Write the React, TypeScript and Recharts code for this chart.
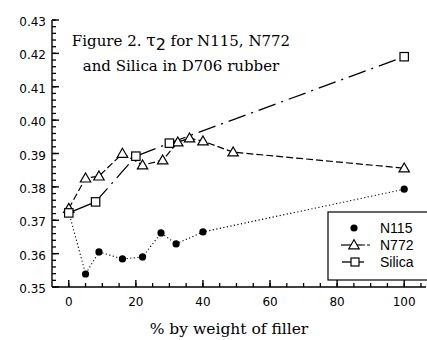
import React from 'react';
import { ComposedChart, Line, XAxis, YAxis } from 'recharts';

// ---- data ----
const n115X = [0, 5, 9, 16, 22, 27.5, 32, 40, 100];
const n115Y = [0.3725, 0.3539, 0.3605, 0.3584, 0.359, 0.3662, 0.3629, 0.3665, 0.3793];

const n772X = [0, 5, 9, 16, 22, 28, 32.5, 36, 40, 49, 100];
const n772Y = [0.3735, 0.3826, 0.3832, 0.390, 0.3865, 0.388, 0.3934, 0.3946, 0.3937, 0.3904, 0.3856];

const silicaX = [0, 8, 20, 30, 100];
const silicaY = [0.3722, 0.3755, 0.3892, 0.3931, 0.419];

const xMajorTicks = [0, 20, 40, 60, 80, 100];
const xMinorTicks = [5, 10, 15, 25, 30, 35, 45, 50, 55, 65, 70, 75, 85, 90, 95, 105];
const yMajorTicks = [0.35, 0.36, 0.37, 0.38, 0.39, 0.40, 0.41, 0.42, 0.43];

const seriesNames = ['N115', 'N772', 'Silica'];
const titleLine1 = ['Figure 2. ', 'τ', '2', ' for N115, N772'];
const titleLine2 = 'and Silica in D706 rubber';
const xAxisTitle = '% by weight of filler';

// ---- derived tables ----
const toRows = (xs: number[], ys: number[]) => xs.map((x, i) => ({ x, y: ys[i] }));
const n115Data = toRows(n115X, n115Y);
const n772Data = toRows(n772X, n772Y);
const silicaData = toRows(silicaX, silicaY);
const silicaSolid = silicaData.slice(0, 2);
const silicaDash = silicaData.slice(1);

const yMinorTicks: number[] = [];
yMajorTicks.slice(0, -1).forEach((v) => {
  [1, 2, 3, 4].forEach((k) => yMinorTicks.push(Number((v + k * 0.002).toFixed(3))));
});
const yAllTicks = [...yMajorTicks, ...yMinorTicks].sort((a, b) => a - b);
const xAllTicks = [...xMajorTicks, ...xMinorTicks].sort((a, b) => a - b);

const isMajor = (list: number[], v: number) => list.some((m) => Math.abs(m - v) < 1e-6);

const TICK_FONT = 'DejaVu Sans';
const SERIF = 'DejaVu Serif';

// native tick lines (tickSize -4, inward); tickMargin 10 puts label anchor 6px left of the axis
const YTick = (props: any) => {
  const { x, y, payload } = props;
  const major = isMajor(yMajorTicks, payload.value);
  if (!major) return <g />;
  return (
    <g>
      <path d={`M${x + 6},${y}H${x + 13}`} stroke="#000" strokeWidth={1.4} fill="none" />
      <text x={x} y={y} dy={6} textAnchor="end" fontFamily={TICK_FONT} fontSize={12} fill="#000">
        {payload.value.toFixed(2)}
      </text>
    </g>
  );
};

// bottom: tickSize -4, tickMargin 4 -> label anchor y equals axis y
const XTickBottom = (props: any) => {
  const { x, y, payload } = props;
  const major = isMajor(xMajorTicks, payload.value);
  if (!major) return <g />;
  return (
    <g>
      <path d={`M${x},${y}V${y - 7}`} stroke="#000" strokeWidth={1.4} fill="none" />
      <text x={x} y={y + 19} textAnchor="middle" fontFamily={TICK_FONT} fontSize={12} fill="#000">
        {payload.value}
      </text>
    </g>
  );
};

const EmptyTick = () => <g />;

const CircleDot = (props: any) => {
  const { cx, cy, index } = props;
  if (cx == null || cy == null) return <g key={index} />;
  return <circle key={index} cx={cx} cy={cy} r={3.6} fill="#000" stroke="none" />;
};

const TriangleDot = (props: any) => {
  const { cx, cy, index } = props;
  if (cx == null || cy == null) return <g key={index} />;
  const w = 5.2;
  const h = 9;
  return (
    <path
      key={index}
      d={`M${cx},${cy - h * 0.58} L${cx + w},${cy + h * 0.42} L${cx - w},${cy + h * 0.42} Z`}
      fill="#fff"
      stroke="#000"
      strokeWidth={1.2}
    />
  );
};

const SquareDot = (props: any) => {
  const { cx, cy, index } = props;
  if (cx == null || cy == null) return <g key={index} />;
  const s = 4.2;
  return <rect key={index} x={cx - s} y={cy - s} width={2 * s} height={2 * s} fill="#fff" stroke="#000" strokeWidth={1.2} />;
};

export default function App() {
  return (
    <div style={{ position: 'relative', width: 427, height: 340, background: '#fff' }}>
      <style>{`body{margin:0;background:#fff}`}</style>
      <ComposedChart width={427} height={340} margin={{ top: 20, right: 1, bottom: 0, left: 0 }}>
        <XAxis
          xAxisId="b"
          dataKey="x"
          type="number"
          domain={[-5, 106.5]}
          ticks={xAllTicks}
          interval={0}
          tickSize={-4}
          tickMargin={4}
          tickLine={{ stroke: '#000', strokeWidth: 1.3 }}
          tick={XTickBottom}
          axisLine={{ stroke: '#000', strokeWidth: 1.4 }}
          height={53}
          allowDataOverflow
        />
        <XAxis
          xAxisId="t"
          orientation="top"
          dataKey="x"
          type="number"
          domain={[-5, 106.5]}
          ticks={xAllTicks}
          interval={0}
          tickSize={-4}
          tickMargin={0}
          tickLine={{ stroke: '#000', strokeWidth: 1.3 }}
          tick={EmptyTick}
          axisLine={{ stroke: '#000', strokeWidth: 1.4 }}
          height={0}
          allowDataOverflow
        />
        <YAxis
          yAxisId="l"
          type="number"
          domain={[0.35, 0.43]}
          ticks={yAllTicks}
          interval={0}
          tickSize={-4}
          tickMargin={10}
          tickLine={{ stroke: '#000', strokeWidth: 1.3 }}
          tick={YTick}
          axisLine={{ stroke: '#000', strokeWidth: 1.4 }}
          width={52}
          allowDataOverflow
        />
        <Line
          xAxisId="b"
          yAxisId="l"
          data={n115Data}
          dataKey="y"
          name={seriesNames[0]}
          stroke="#000"
          strokeWidth={1.1}
          strokeDasharray="1.2 2.4"
          dot={<CircleDot />}
          activeDot={false}
          isAnimationActive={false}
        />
        <Line
          xAxisId="b"
          yAxisId="l"
          data={n772Data}
          dataKey="y"
          name={seriesNames[1]}
          stroke="#000"
          strokeWidth={1.2}
          strokeDasharray="7 3"
          dot={<TriangleDot />}
          activeDot={false}
          isAnimationActive={false}
        />
        <Line
          xAxisId="b"
          yAxisId="l"
          data={silicaSolid}
          dataKey="y"
          name={seriesNames[2] + ' solid'}
          stroke="#000"
          strokeWidth={1.3}
          dot={false}
          activeDot={false}
          isAnimationActive={false}
          legendType="none"
        />
        <Line
          xAxisId="b"
          yAxisId="l"
          data={silicaDash}
          dataKey="y"
          name={seriesNames[2]}
          stroke="#000"
          strokeWidth={1.3}
          strokeDasharray="18 6 2 6"
          dot={false}
          activeDot={false}
          isAnimationActive={false}
        />
        <Line
          xAxisId="b"
          yAxisId="l"
          data={silicaData}
          dataKey="y"
          name={seriesNames[2] + ' markers'}
          stroke="none"
          dot={<SquareDot />}
          activeDot={false}
          isAnimationActive={false}
          legendType="none"
        />
      </ComposedChart>
      <svg width={427} height={340} style={{ position: 'absolute', left: 0, top: 0, pointerEvents: 'none' }}>
        <text x={181} y={46} textAnchor="middle" fontFamily={SERIF} fontSize={15} fill="#000">
          <tspan>{titleLine1[0]}</tspan>
          <tspan fontSize={17}>{titleLine1[1]}</tspan>
          <tspan fontFamily={TICK_FONT} fontSize={16} dy={4}>{titleLine1[2]}</tspan>
          <tspan dy={-4}>{titleLine1[3]}</tspan>
        </text>
        <text x={181} y={71} textAnchor="middle" fontFamily={SERIF} fontSize={15} fill="#000">
          {titleLine2}
        </text>
        <text x={229} y={334} textAnchor="middle" fontFamily={SERIF} fontSize={15.5} fill="#000">
          {xAxisTitle}
        </text>
        {/* legend */}
        <rect x={328} y={212} width={105} height={68} fill="#fff" stroke="#000" strokeWidth={1.2} />
        <circle cx={354} cy={228} r={3.6} fill="#000" />
        <text x={380} y={233} fontFamily="Liberation Sans" fontSize={14} fill="#000">{seriesNames[0]}</text>
        <line x1={341} x2={362} y1={245} y2={245} stroke="#000" strokeWidth={1.2} />
        <line x1={362} x2={372} y1={245} y2={245} stroke="#000" strokeWidth={1.2} strokeDasharray="3 2" />
        <path d="M354,239.8 L359.2,248.8 L348.8,248.8 Z" fill="#fff" stroke="#000" strokeWidth={1.2} />
        <text x={380} y={250} fontFamily="Liberation Sans" fontSize={14} fill="#000">{seriesNames[1]}</text>
        <line x1={342} x2={364} y1={262} y2={262} stroke="#000" strokeWidth={1.3} />
        <rect x={351} y={258} width={8} height={8} fill="#fff" stroke="#000" strokeWidth={1.2} />
        <text x={380} y={267} fontFamily="Liberation Sans" fontSize={14} fill="#000">{seriesNames[2]}</text>
      </svg>
    </div>
  );
}
